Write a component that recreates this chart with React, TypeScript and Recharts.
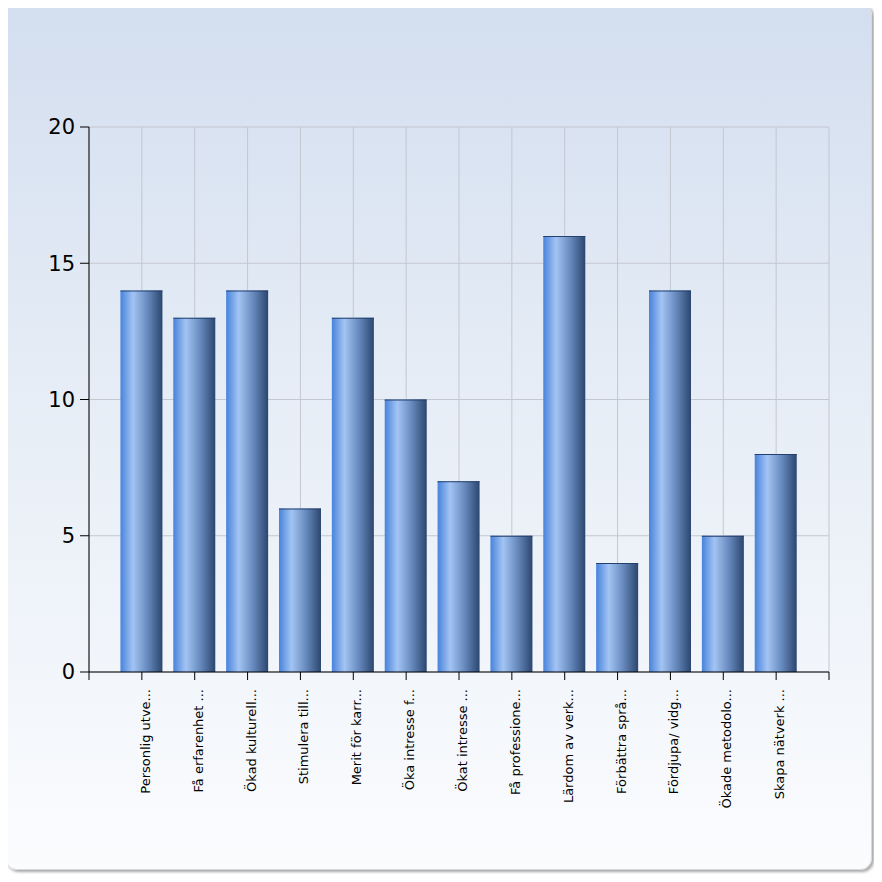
import React from 'react';
import { BarChart, Bar, XAxis, YAxis, CartesianGrid } from 'recharts';

const categories = [
  'Personlig utve...',
  'Få erfarenhet ...',
  'Ökad kulturell...',
  'Stimulera till...',
  'Merit för karr...',
  'Öka intresse f...',
  'Ökat intresse ...',
  'Få professione...',
  'Lärdom av verk...',
  'Förbättra språ...',
  'Fördjupa/ vidg...',
  'Ökade metodolo...',
  'Skapa nätverk ...',
];
const values = [14, 13, 14, 6, 13, 10, 7, 5, 16, 4, 14, 5, 8];
const yTicks = [0, 5, 10, 15, 20];
const xTicks = [0, 1, 2, 3, 4, 5, 6, 7, 8, 9, 10, 11, 12, 13, 14];

const data = categories.map((name, i) => ({ x: i + 1, name, v: values[i] }));

const FONT = '"DejaVu Sans", Verdana, sans-serif';

const XTick = (props: any) => {
  const { x, y, payload } = props;
  const idx = payload.value - 1;
  if (idx < 0 || idx >= categories.length) return null;
  const tx = x + 8;
  const ty = y + 7;
  return (
    <text
      x={tx}
      y={ty}
      transform={`rotate(-90, ${tx}, ${ty})`}
      textAnchor="end"
      fontSize={13}
      fontFamily={FONT}
      fill="#000"
    >
      {categories[idx]}
    </text>
  );
};

const BarShape = (props: any) => {
  const { x, y, width, height } = props;
  if (!height || height <= 0) return null;
  return (
    <g>
      <rect x={x} y={y} width={width} height={height} fill="url(#barGrad)" />
      <line x1={x} y1={y + 0.5} x2={x + width} y2={y + 0.5} stroke="#24406c" strokeWidth={1} />
    </g>
  );
};

export default function App() {
  return (
    <div style={{ position: 'relative', width: 882, height: 882, margin: -8, background: '#fff' }}>
      <div
        style={{
          position: 'absolute',
          left: 5,
          top: 3,
          width: 865,
          height: 865,
          borderRadius: 12,
          border: '1px solid #d6d9de',
          background: 'linear-gradient(to bottom, #d3deef 0%, #e6edf6 45%, #fbfcfe 100%)',
          boxShadow: '2px 2px 3px rgba(0,0,0,0.35)',
        }}
      />
      <div style={{ position: 'absolute', left: 0, top: 0 }}>
        <BarChart
          width={882}
          height={882}
          data={data}
          margin={{ top: 127, right: 53, left: 0, bottom: 80 }}
        >
          <defs>
            <linearGradient id="barGrad" x1="0" y1="0" x2="1" y2="0">
              <stop offset="0%" stopColor="#4883dc" />
              <stop offset="30%" stopColor="#a3c4f3" />
              <stop offset="62%" stopColor="#6b8ec2" />
              <stop offset="100%" stopColor="#2b466f" />
            </linearGradient>
          </defs>
          <CartesianGrid stroke="#c3c7d0" strokeWidth={1} />
          <XAxis
            dataKey="x"
            type="number"
            domain={[0, 14]}
            ticks={xTicks}
            interval={0}
            height={130}
            axisLine={{ stroke: '#000' }}
            tickLine={{ stroke: '#000' }}
            tickSize={8}
            tickMargin={2}
            tick={<XTick />}
          />
          <YAxis
            type="number"
            domain={[0, 20]}
            ticks={yTicks}
            width={89}
            axisLine={{ stroke: '#000' }}
            tickLine={{ stroke: '#000' }}
            tickSize={9}
            tickMargin={5}
            tick={{ fontSize: 21, fill: '#000', fontFamily: FONT }}
          />
          <Bar dataKey="v" barSize={42} isAnimationActive={false} shape={<BarShape />} />
        </BarChart>
      </div>
    </div>
  );
}
